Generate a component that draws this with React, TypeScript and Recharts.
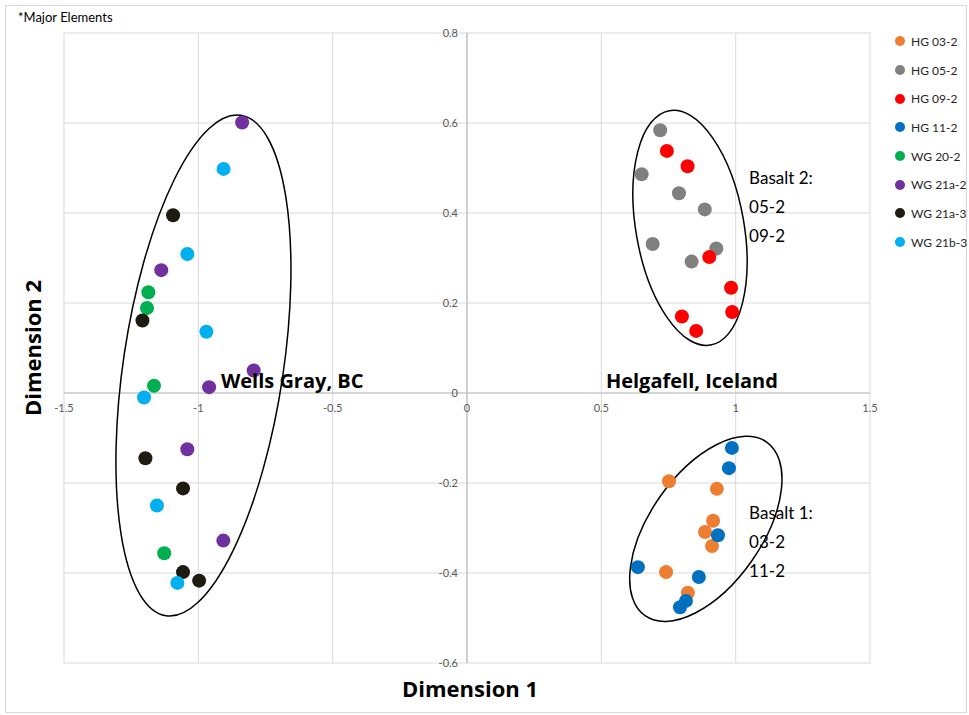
import {
  ScatterChart,
  Scatter,
  XAxis,
  YAxis,
  CartesianGrid,
  ReferenceLine,
  ReferenceDot,
} from "recharts";

const FONT = "Lato, 'Open Sans', sans-serif";
const TITLE_FONT = "'Open Sans', sans-serif";

// series
const SERIES_NAMES = [
  "HG 03-2",
  "HG 05-2",
  "HG 09-2",
  "HG 11-2",
  "WG 20-2",
  "WG 21a-2",
  "WG 21a-3",
  "WG 21b-3",
];
const SERIES_COLORS = [
  "#ED7D31",
  "#808080",
  "#FF0000",
  "#0070C0",
  "#00B050",
  "#7030A0",
  "#1E1C11",
  "#00B0F0",
];

// [dimension 1, dimension 2]
const HG_03_2 = [
  [0.752, -0.196], [0.93, -0.213], [0.916, -0.284], [0.886, -0.309],
  [0.912, -0.34], [0.741, -0.398], [0.822, -0.444],
];
const HG_05_2 = [
  [0.719, 0.584], [0.65, 0.486], [0.789, 0.444], [0.885, 0.408],
  [0.691, 0.331], [0.928, 0.321], [0.836, 0.292],
];
const HG_09_2 = [
  [0.744, 0.538], [0.821, 0.504], [0.902, 0.302], [0.983, 0.234],
  [0.987, 0.18], [0.8, 0.17], [0.853, 0.138],
];
const HG_11_2 = [
  [0.986, -0.122], [0.975, -0.167], [0.934, -0.316], [0.636, -0.387],
  [0.863, -0.409], [0.815, -0.462], [0.793, -0.476],
];
const WG_20_2 = [[-1.186, 0.224], [-1.191, 0.189], [-1.165, 0.016], [-1.127, -0.356]];
const WG_21A_2 = [
  [-0.837, 0.601], [-1.138, 0.273], [-0.794, 0.05], [-0.96, 0.013],
  [-1.041, -0.125], [-0.907, -0.328],
];
const WG_21A_3 = [
  [-1.094, 0.395], [-1.208, 0.161], [-1.197, -0.145], [-1.057, -0.212],
  [-1.057, -0.398], [-0.997, -0.417],
];
const WG_21B_3 = [
  [-0.906, 0.498], [-1.041, 0.309], [-0.97, 0.136], [-1.202, -0.01],
  [-1.154, -0.25], [-1.078, -0.422],
];
const SERIES_POINTS = [HG_03_2, HG_05_2, HG_09_2, HG_11_2, WG_20_2, WG_21A_2, WG_21A_3, WG_21B_3];

// axes
const X_TICKS = [-1.5, -1, -0.5, 0, 0.5, 1, 1.5];
const X_TICK_LABELS = ["-1.5", "-1", "-0.5", "0", "0.5", "1", "1.5"];
const Y_TICKS = [-0.6, -0.4, -0.2, 0, 0.2, 0.4, 0.6, 0.8];
const Y_TICK_LABELS = ["-0.6", "-0.4", "-0.2", "0", "0.2", "0.4", "0.6", "0.8"];

// group outlines: centre in data units
const GROUP_CENTERS = [[-0.981, 0.061], [0.83, 0.367], [0.889, -0.302]];
const GROUP_SHAPES = [
  { rx: 80, ry: 253, angle: 8.5 },
  { rx: 54, ry: 119, angle: -10 },
  { rx: 56, ry: 106, angle: 35 },
];

// annotations
const NOTE_ANCHORS = [[-0.916, 0.027], [0.517, 0.027], [1.05, 0.478], [1.05, -0.267]];
const NOTE_LINES = [
  ["Wells Gray, BC"],
  ["Helgafell, Iceland"],
  ["Basalt 2:", "05-2", "09-2"],
  ["Basalt 1:", "03-2", "11-2"],
];
const NOTE_BOLD = [true, true, false, false];

const Dot = (color: string) => (props: any) =>
  <circle cx={props.cx} cy={props.cy} r={7} fill={color} />;

const GroupOutline = (s: { rx: number; ry: number; angle: number }) => (props: any) =>
  (
    <ellipse
      cx={props.cx}
      cy={props.cy}
      rx={s.rx}
      ry={s.ry}
      transform={`rotate(${s.angle} ${props.cx} ${props.cy})`}
      fill="none"
      stroke="#000"
      strokeWidth={1.5}
    />
  );

const Note = (lines: string[], bold: boolean) => (props: any) =>
  (
    <text
      x={props.cx}
      y={props.cy}
      fontFamily={bold ? TITLE_FONT : FONT}
      fontSize={bold ? 20 : 17}
      fontWeight={bold ? 700 : 400}
      fill="#000"
    >
      {lines.map((l, i) => (
        <tspan key={i} x={props.cx} dy={i === 0 ? "0.35em" : 29}>
          {l}
        </tspan>
      ))}
    </text>
  );

export default function App() {
  return (
    <div style={{ position: "absolute", left: 0, top: 0, width: 969, height: 715, background: "#fff", fontFamily: FONT }}>
      <div
        style={{
          position: "absolute",
          left: 5,
          top: 5,
          width: 962,
          height: 708,
          border: "1px solid #d9d9d9",
          boxSizing: "border-box",
        }}
      />
      <div style={{ position: "absolute", left: 18, top: 9, fontSize: 13, color: "#000" }}>*Major Elements</div>

      <ScatterChart width={969} height={715} margin={{ top: 33, right: 99, bottom: 52, left: 64 }} style={{ position: "absolute", left: 0, top: 0 }}>
        <CartesianGrid stroke="#d9d9d9" strokeWidth={1} />
        <XAxis type="number" dataKey="x" domain={[-1.5, 1.5]} ticks={X_TICKS} hide />
        <YAxis type="number" dataKey="y" domain={[-0.6, 0.8]} ticks={Y_TICKS} hide />
        <ReferenceLine x={0} stroke="#bfbfbf" strokeWidth={1.2} />
        <ReferenceLine y={0} stroke="#bfbfbf" strokeWidth={1.2} />
        {X_TICKS.map((t, i) => (
          <ReferenceDot
            key={`xt${i}`}
            x={t}
            y={0}
            r={0}
            stroke="none"
            label={{ value: X_TICK_LABELS[i], position: "bottom", offset: 11, fill: "#595959", fontSize: 11, fontFamily: FONT }}
          />
        ))}
        {Y_TICKS.map((t, i) => (
          <ReferenceDot
            key={`yt${i}`}
            x={0}
            y={t}
            r={0}
            stroke="none"
            label={{ value: Y_TICK_LABELS[i], position: "left", offset: 9, fill: "#595959", fontSize: 11, fontFamily: FONT }}
          />
        ))}
        {GROUP_CENTERS.map((c, i) => (
          <ReferenceDot key={`g${i}`} x={c[0]} y={c[1]} shape={GroupOutline(GROUP_SHAPES[i])} />
        ))}
        {SERIES_NAMES.map((name, i) => (
          <Scatter
            key={name}
            name={name}
            data={SERIES_POINTS[i].map(([x, y]) => ({ x, y }))}
            fill={SERIES_COLORS[i]}
            shape={Dot(SERIES_COLORS[i])}
            isAnimationActive={false}
          />
        ))}
        {NOTE_ANCHORS.map((a, i) => (
          <ReferenceDot key={`n${i}`} x={a[0]} y={a[1]} shape={Note(NOTE_LINES[i], NOTE_BOLD[i])} />
        ))}
      </ScatterChart>

      {/* axis titles */}
      <div style={{ position: "absolute", left: 0, width: 940, top: 673, textAlign: "center", fontSize: 22, fontWeight: 700, color: "#000", fontFamily: TITLE_FONT }}>
        Dimension 1
      </div>
      <div
        style={{
          position: "absolute",
          left: 32,
          top: 348,
          transform: "translate(-50%, -50%) rotate(-90deg)",
          fontSize: 22,
          fontWeight: 700,
          color: "#000",
          whiteSpace: "nowrap",
          fontFamily: TITLE_FONT,
        }}
      >
        Dimension 2
      </div>

      {/* legend */}
      <div style={{ position: "absolute", left: 895, top: 27 }}>
        {SERIES_NAMES.map((name, i) => (
          <div key={name} style={{ height: 28.7, display: "flex", alignItems: "center", fontSize: 12, color: "#262626", whiteSpace: "nowrap" }}>
            <span style={{ width: 10, height: 10, borderRadius: 5, background: SERIES_COLORS[i], marginRight: 6, flexShrink: 0 }} />
            {name}
          </div>
        ))}
      </div>
    </div>
  );
}
